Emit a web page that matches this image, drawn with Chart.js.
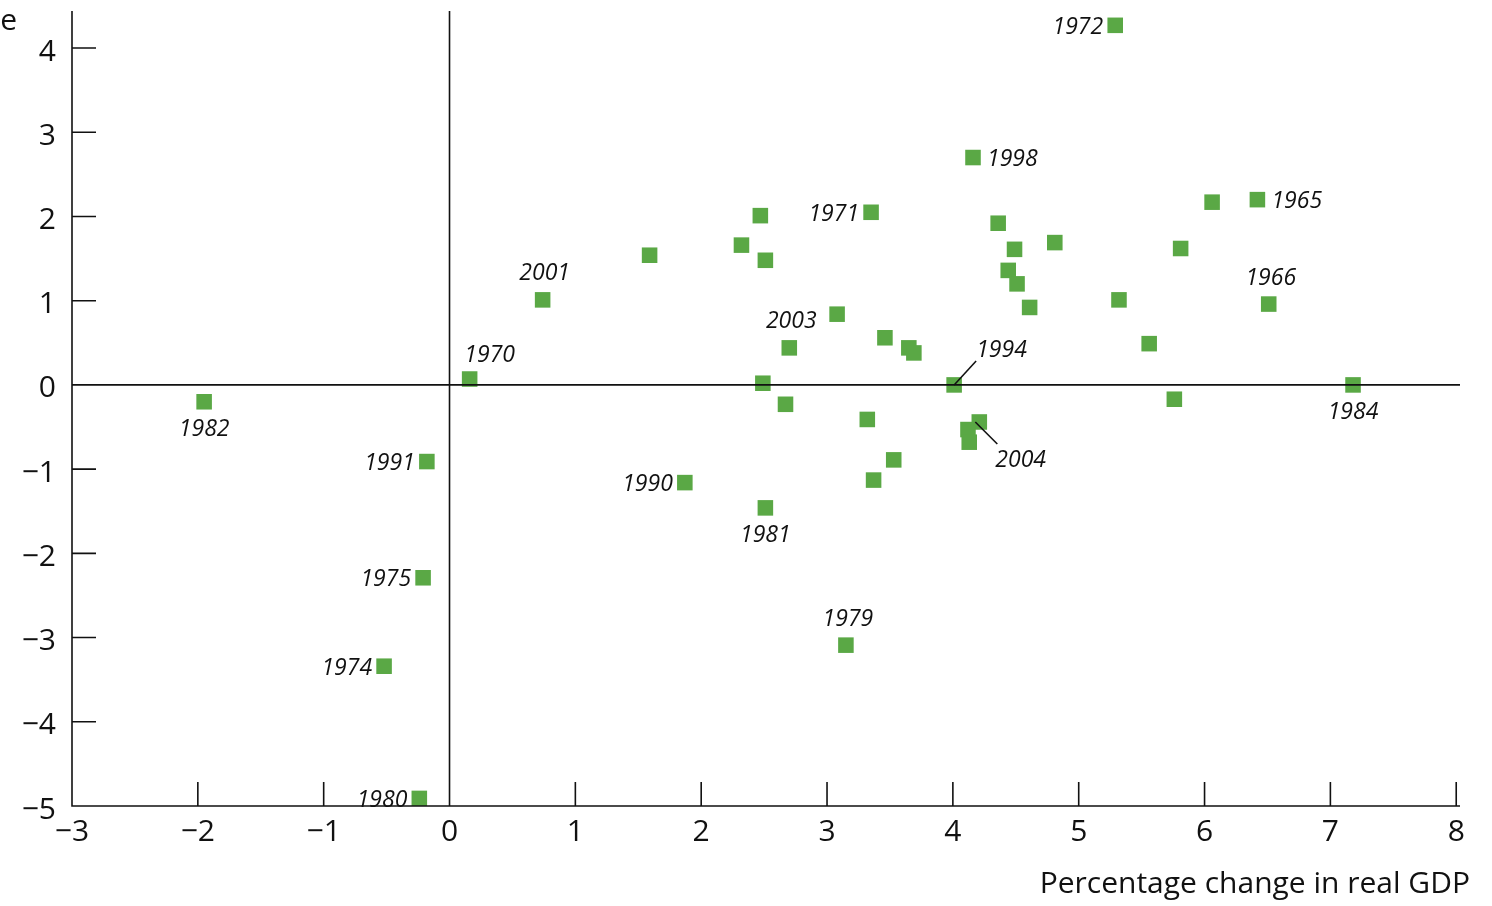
<!DOCTYPE html>
<html><head><meta charset="utf-8">
<script src="https://cdn.jsdelivr.net/npm/chart.js@4"></script>
<style>html,body{margin:0;padding:0;background:#fff}#w{width:1492px;height:906px;position:relative}</style>
</head><body><div id="w"><canvas id="c"></canvas></div>
<script>
const xValues=[5.29,4.16,6.42,6.06,3.35,2.47,4.36,2.32,4.81,4.49,5.81,1.59,2.51,4.44,4.51,6.51,0.74,5.32,4.61,3.08,3.46,3.65,3.69,2.70,5.56,0.16,2.49,4.01,7.18,5.76,2.67,-1.95,3.32,4.21,4.12,4.13,3.53,3.37,-0.18,1.87,2.51,-0.21,3.15,-0.52,-0.24];
const yValues=[4.27,2.70,2.20,2.17,2.05,2.01,1.92,1.66,1.69,1.61,1.62,1.54,1.48,1.36,1.20,0.96,1.01,1.01,0.92,0.84,0.56,0.44,0.38,0.44,0.49,0.07,0.02,0.00,0.00,-0.17,-0.23,-0.20,-0.41,-0.44,-0.53,-0.68,-0.89,-1.13,-0.91,-1.16,-1.46,-2.29,-3.09,-3.34,-4.91];
const yearLabels=["1972","1998","1965","","1971","","","","","","","","","","","1966","2001","","","","","","","2003","","1970","","1994","1984","","","1982","","2004","","","","","1991","1990","1981","1975","1979","1974","1980"];
const labelPlace=["L","R","R","","L","","","","","","","","","","","A","A","","","","","","","A","","AR","","LR","B","","","B","","LB","","","","","L","L","B","L","A","L","L"];
const xTicks=[-3,-2,-1,0,1,2,3,4,5,6,7,8];
const yTicks=[-5,-4,-3,-2,-1,0,1,2,3,4];
const fmt=v=>v<0?'\u2212'+Math.abs(v):String(v);
const pts=xValues.map((x,i)=>({x,y:yValues[i]}));
const deco={id:'deco',afterDatasetsDraw(ch){
 const c=ch.ctx,xs=ch.scales.x,ys=ch.scales.y,a=ch.chartArea;
 c.save();c.strokeStyle='#111';c.lineWidth=1.6;
 c.beginPath();c.moveTo(xs.getPixelForValue(0),a.top);c.lineTo(xs.getPixelForValue(0),a.bottom);
 c.moveTo(a.left,ys.getPixelForValue(0));c.lineTo(a.right,ys.getPixelForValue(0));
 c.moveTo(a.left,a.top);c.lineTo(a.left,a.bottom);c.lineTo(a.right,a.bottom);
 xTicks.forEach(t=>{const p=xs.getPixelForValue(t);c.moveTo(p,a.bottom);c.lineTo(p,a.bottom-24);});
 yTicks.forEach(t=>{const p=ys.getPixelForValue(t);c.moveTo(a.left,p);c.lineTo(a.left+24,p);});
 c.stroke();
 c.font='30px "Open Sans"';c.fillStyle='#111';c.textAlign='right';c.textBaseline='middle';
 yTicks.forEach(t=>c.fillText(fmt(t),56,ys.getPixelForValue(t)+4));
 c.font='italic 23px "Open Sans"';
 pts.forEach((p,i)=>{const s=yearLabels[i];if(!s)return;const px=xs.getPixelForValue(p.x),py=ys.getPixelForValue(p.y);const pl=labelPlace[i];
  c.textBaseline='middle';
  if(pl==='L'){c.textAlign='right';c.fillText(s,px-12,py+2);}
  else if(pl==='R'){c.textAlign='left';c.fillText(s,px+14,py+2);}
  else if(pl==='A'){c.textAlign='center';c.fillText(s,px+2,py-26);}
  else if(pl==='AR'){c.textAlign='center';c.fillText(s,px+20,py-24);}
  else if(pl==='B'){c.textAlign='center';c.fillText(s,px,py+28);}
  else if(pl==='LR'){c.beginPath();c.moveTo(px,py);c.lineTo(px+22,py-24);c.stroke();c.textAlign='left';c.fillText(s,px+22,py-34);}
  else if(pl==='LB'){c.beginPath();c.moveTo(px-4,py);c.lineTo(px+18,py+22);c.stroke();c.textAlign='left';c.fillText(s,px+16,py+38);}
 });
 c.font='30px "Open Sans"';c.textAlign='right';c.textBaseline='alphabetic';
 c.fillText('Percentage change in real GDP',1470,893);
 c.fillText('Change',17,30);
 c.restore();}};
new Chart(document.getElementById('c'),{type:'scatter',
 data:{datasets:[{data:pts,backgroundColor:'#5aa845',borderColor:'#5aa845',pointStyle:'rect',pointRadius:11,pointHoverRadius:11,borderWidth:0}]},
 options:{responsive:true,maintainAspectRatio:false,animation:false,devicePixelRatio:1,
  layout:{padding:{left:0,right:32,top:8,bottom:56}},
  plugins:{legend:{display:false},tooltip:{enabled:false}},
  scales:{
   x:{type:'linear',min:-3,max:8.03,afterBuildTicks:s=>{s.ticks=xTicks.map(v=>({value:v}));},
      grid:{display:false},border:{display:false},
      ticks:{callback:fmt,color:'#111',font:{family:'Open Sans',size:30},padding:0}},
   y:{type:'linear',min:-5,max:4.44,afterFit:s=>{s.width=72;},
      grid:{display:false},border:{display:false},ticks:{display:false}}
  }},plugins:[deco]});
</script></body></html>
